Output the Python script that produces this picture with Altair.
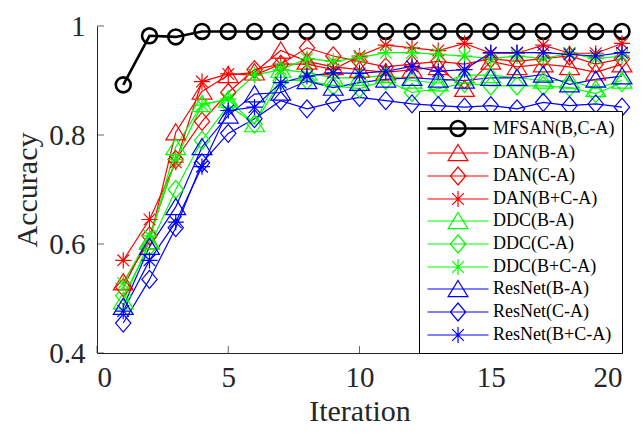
import altair as alt
import pandas as pd

iterations = list(range(1, 21))
x_ticks = [0, 5, 10, 15, 20]
y_ticks = [0.4, 0.6, 0.8, 1.0]

names = ["MFSAN(B,C-A)", "DAN(B-A)", "DAN(C-A)", "DAN(B+C-A)",
         "DDC(B-A)", "DDC(C-A)", "DDC(B+C-A)",
         "ResNet(B-A)", "ResNet(C-A)", "ResNet(B+C-A)"]

mfsan = [0.892, 0.982, 0.98, 0.99, 0.99, 0.99, 0.99, 0.99, 0.99, 0.99,
         0.99, 0.99, 0.99, 0.99, 0.99, 0.99, 0.99, 0.99, 0.99, 0.99]
dan_ba = [0.53, 0.605, 0.805, 0.88, 0.91, 0.915, 0.955, 0.935, 0.925, 0.92,
          0.915, 0.92, 0.925, 0.885, 0.935, 0.925, 0.93, 0.925, 0.915, 0.93]
dan_ca = [0.52, 0.615, 0.755, 0.825, 0.878, 0.92, 0.93, 0.96, 0.945, 0.935,
          0.925, 0.93, 0.935, 0.93, 0.94, 0.935, 0.94, 0.945, 0.93, 0.94]
dan_bca = [0.57, 0.645, 0.75, 0.898, 0.912, 0.91, 0.93, 0.93, 0.92, 0.945,
           0.965, 0.96, 0.955, 0.968, 0.95, 0.95, 0.965, 0.95, 0.95, 0.968]
ddc_ba = [0.495, 0.605, 0.778, 0.857, 0.865, 0.82, 0.92, 0.915, 0.905, 0.905,
          0.91, 0.9, 0.895, 0.91, 0.91, 0.905, 0.9, 0.9, 0.885, 0.9]
ddc_ca = [0.505, 0.595, 0.70, 0.79, 0.855, 0.82, 0.9, 0.9, 0.89, 0.885,
          0.9, 0.878, 0.885, 0.895, 0.89, 0.89, 0.89, 0.887, 0.876, 0.896]
ddc_bca = [0.528, 0.615, 0.755, 0.855, 0.866, 0.91, 0.92, 0.94, 0.935, 0.942,
           0.951, 0.951, 0.948, 0.945, 0.94, 0.945, 0.94, 0.95, 0.94, 0.945]
res_ba = [0.485, 0.595, 0.668, 0.778, 0.836, 0.875, 0.878, 0.899, 0.887, 0.896,
          0.902, 0.905, 0.902, 0.9, 0.905, 0.905, 0.911, 0.893, 0.902, 0.908]
res_ca = [0.455, 0.535, 0.63, 0.749, 0.803, 0.83, 0.863, 0.848, 0.86, 0.869,
          0.863, 0.857, 0.854, 0.851, 0.854, 0.848, 0.86, 0.854, 0.857, 0.851]
res_bca = [0.477, 0.57, 0.64, 0.742, 0.845, 0.851, 0.896, 0.908, 0.914, 0.913,
           0.917, 0.926, 0.917, 0.92, 0.951, 0.951, 0.951, 0.948, 0.945, 0.951]

series_values = [mfsan, dan_ba, dan_ca, dan_bca, ddc_ba, ddc_ca, ddc_bca,
                 res_ba, res_ca, res_bca]
colors = ["#000000", "#ff0000", "#ff0000", "#ff0000", "#00ff00", "#00ff00",
          "#00ff00", "#0000ff", "#0000ff", "#0000ff"]
widths = [2.6, 1.2, 1.2, 1.2, 1.2, 1.2, 1.2, 1.2, 1.2, 1.2]

rows = []
for name, vals in zip(names, series_values):
    for it, v in zip(iterations, vals):
        rows.append({"series": name, "iter": it, "acc": v})
df = pd.DataFrame(rows)

# inward axis ticks, built from the tick lists
xt = pd.DataFrame({"iter": x_ticks, "acc": [y_ticks[0]] * len(x_ticks)})
yt = pd.DataFrame({"iter": [x_ticks[0]] * len(y_ticks), "acc": y_ticks})


def tri(cx):
    return f"M{cx},-0.95L{cx + 1.1},0.85L{cx - 1.1},0.85Z"


def dia(cx):
    return f"M{cx},-1L{cx + 0.85},0L{cx},1L{cx - 0.85},0Z"


def ast(cx):
    return (f"M{cx},-0.9L{cx},0.9M{cx - 0.9},0L{cx + 0.9},0"
            f"M{cx - 0.65},-0.65L{cx + 0.65},0.65M{cx - 0.65},0.65L{cx + 0.65},-0.65")


def circ(cx):
    r = 0.83
    return f"M{cx + r},0A{r},{r} 0 1,1 {cx - r},0A{r},{r} 0 1,1 {cx + r},0"


makers = [circ, tri, dia, ast, tri, dia, ast, tri, dia, ast]
marker_paths = [m(0) for m in makers]
legend_paths = ["M-1,0L5.78,0" + m(2.39) for m in makers]

FONT = "Liberation Serif"
AX = "#262626"

x_enc = alt.X("iter:Q", scale=alt.Scale(domain=[0, 20], nice=False),
              axis=alt.Axis(values=x_ticks, title="Iteration", ticks=False,
                            labelPadding=10, titlePadding=4))
y_enc = alt.Y("acc:Q", scale=alt.Scale(domain=[0.4, 1.0], nice=False),
              axis=alt.Axis(values=y_ticks, title="Accuracy", format="~g",
                            ticks=False, labelPadding=12, titlePadding=6))

color_sc = alt.Scale(domain=names, range=colors)
width_sc = alt.Scale(type="ordinal", domain=names, range=widths)

x_tick_layer = alt.Chart(xt).mark_tick(
    orient="vertical", size=7, thickness=1, color=AX, yOffset=-3.5
).encode(x=x_enc, y=y_enc)

y_tick_layer = alt.Chart(yt).mark_tick(
    orient="horizontal", size=7, thickness=1, color=AX, xOffset=3.5
).encode(x=x_enc, y=y_enc)

lines = alt.Chart(df).mark_line().encode(
    x=x_enc, y=y_enc,
    color=alt.Color("series:N", scale=color_sc, legend=None),
    strokeWidth=alt.StrokeWidth("series:N", scale=width_sc, legend=None),
    detail="series:N",
)

points = alt.Chart(df).mark_point(filled=False, size=324, opacity=1).encode(
    x=x_enc, y=y_enc,
    color=alt.Color("series:N", scale=color_sc, legend=None),
    shape=alt.Shape("series:N", scale=alt.Scale(domain=names, range=marker_paths), legend=None),
    strokeWidth=alt.StrokeWidth("series:N", scale=width_sc, legend=None),
)

leg = alt.Legend(title=None, orient="bottom-right", offset=0, padding=7,
                 strokeColor="#000000", fillColor="#ffffff",
                 labelFont=FONT, labelFontSize=18, labelColor="#000000",
                 symbolSize=324, labelOffset=46, rowPadding=0)

legend_layer = alt.Chart(df).transform_filter("datum.iter < 0").mark_point(
    filled=False, size=324, opacity=1).encode(
    color=alt.Color("series:N", scale=color_sc, legend=leg),
    shape=alt.Shape("series:N", scale=alt.Scale(domain=names, range=legend_paths), legend=leg),
    strokeWidth=alt.StrokeWidth("series:N", scale=width_sc, legend=leg),
)

chart = alt.layer(x_tick_layer, y_tick_layer, lines, points, legend_layer).resolve_scale(
    color="independent", shape="independent", strokeWidth="independent"
).properties(
    width=627, height=422,
    autosize=alt.AutoSizeParams(type="fit", contains="padding"),
    padding={"top": 4, "left": 4, "right": 0, "bottom": 4},
).configure_view(stroke=None).configure_axis(
    grid=False, domainColor=AX, domainWidth=1,
    labelFont=FONT, labelFontSize=29, labelColor=AX,
    titleFont=FONT, titleFontSize=30, titleColor=AX, titleFontWeight="normal",
)

chart.save("out.html", embed_options={"renderer": "svg", "actions": False})
